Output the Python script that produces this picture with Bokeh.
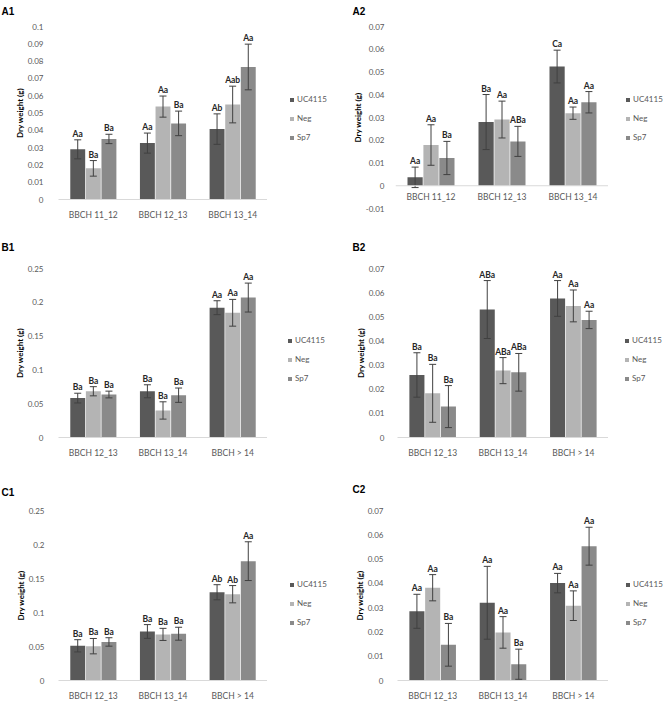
import numpy as np
from bokeh.plotting import figure
from bokeh.models import (ColumnDataSource, Range1d, FixedTicker, NumeralTickFormatter,
                          Whisker, TeeHead, Legend, LegendItem, Span)
from bokeh.layouts import column, row
from bokeh.core.properties import value
from bokeh.embed import file_html
from bokeh.resources import INLINE

# ---------------- data ----------------
series = ["UC4115", "Neg", "Sp7"]
colors = ["#595959", "#b4b4b4", "#8a8a8a"]

cats_A = ["BBCH 11_12", "BBCH 12_13", "BBCH 13_14"]
cats_BC = ["BBCH 12_13", "BBCH 13_14", "BBCH > 14"]

ticks_01 = [0, 0.01, 0.02, 0.03, 0.04, 0.05, 0.06, 0.07, 0.08, 0.09, 0.1]
ticks_007n = [-0.01, 0, 0.01, 0.02, 0.03, 0.04, 0.05, 0.06, 0.07]
ticks_007 = [0, 0.01, 0.02, 0.03, 0.04, 0.05, 0.06, 0.07]
ticks_025 = [0, 0.05, 0.1, 0.15, 0.2, 0.25]

# A1
a1_uc = [0.029, 0.0326, 0.0407]
a1_uc_err = [0.0055, 0.0058, 0.0088]
a1_neg = [0.018, 0.0537, 0.0549]
a1_neg_err = [0.0045, 0.0061, 0.0106]
a1_sp7 = [0.035, 0.044, 0.0766]
a1_sp7_err = [0.0027, 0.0071, 0.0132]
a1_uc_let = ["Aa", "Aa", "Ab"]
a1_neg_let = ["Ba", "Aa", "Aab"]
a1_sp7_let = ["Ba", "Ba", "Aa"]

# A2
a2_uc = [0.0037, 0.028, 0.0524]
a2_uc_err = [0.0045, 0.0121, 0.0072]
a2_neg = [0.0179, 0.0291, 0.0319]
a2_neg_err = [0.0089, 0.0081, 0.0027]
a2_sp7 = [0.0122, 0.0195, 0.0367]
a2_sp7_err = [0.0073, 0.0066, 0.0047]
a2_uc_let = ["Aa", "Ba", "Ca"]
a2_neg_let = ["Aa", "Aa", "Aa"]
a2_sp7_let = ["Ba", "ABa", "Aa"]

# B1
b1_uc = [0.0583, 0.0684, 0.192]
b1_uc_err = [0.0072, 0.0096, 0.0103]
b1_neg = [0.0684, 0.040, 0.1845]
b1_neg_err = [0.0068, 0.0128, 0.0198]
b1_sp7 = [0.0636, 0.0626, 0.207]
b1_sp7_err = [0.0050, 0.0106, 0.0214]
b1_uc_let = ["Ba", "Ba", "Aa"]
b1_neg_let = ["Ba", "Ba", "Aa"]
b1_sp7_let = ["Ba", "Ba", "Aa"]

# B2
b2_uc = [0.0259, 0.053, 0.0576]
b2_uc_err = [0.0092, 0.012, 0.0074]
b2_neg = [0.0183, 0.0277, 0.0545]
b2_neg_err = [0.0120, 0.0054, 0.0066]
b2_sp7 = [0.0128, 0.027, 0.0487]
b2_sp7_err = [0.0087, 0.0078, 0.0036]
b2_uc_let = ["Ba", "ABa", "Aa"]
b2_neg_let = ["Ba", "ABa", "Aa"]
b2_sp7_let = ["Ba", "ABa", "Aa"]

# C1
c1_uc = [0.051, 0.0721, 0.1298]
c1_uc_err = [0.009, 0.0101, 0.0111]
c1_neg = [0.0505, 0.0678, 0.1269]
c1_neg_err = [0.0113, 0.0089, 0.0127]
c1_sp7 = [0.0567, 0.0688, 0.1755]
c1_sp7_err = [0.0062, 0.0095, 0.0285]
c1_uc_let = ["Ba", "Ba", "Ab"]
c1_neg_let = ["Ba", "Ba", "Ab"]
c1_sp7_let = ["Ba", "Ba", "Aa"]

# C2
c2_uc = [0.0285, 0.032, 0.0401]
c2_uc_err = [0.0070, 0.015, 0.0040]
c2_neg = [0.0382, 0.0198, 0.0308]
c2_neg_err = [0.0054, 0.0065, 0.0061]
c2_sp7 = [0.0147, 0.0067, 0.0553]
c2_sp7_err = [0.0088, 0.0062, 0.0078]
c2_uc_let = ["Aa", "Aa", "Aa"]
c2_neg_let = ["Aa", "Aa", "Aa"]
c2_sp7_let = ["Ba", "Ba", "Aa"]

# ---------------- styling ----------------
FONT = "Lato"
GRAY_TXT = "#595959"
ERR_COL = "#404040"
OFFSETS = [-0.224, 0.0, 0.224]
BAR_W = 0.214


def bare_fig(w, h):
    f = figure(width=w, height=h, output_backend="svg", toolbar_location=None, tools="",
               x_range=Range1d(0, w), y_range=Range1d(0, h), min_border=0,
               x_axis_type=None, y_axis_type=None)
    f.outline_line_color = None
    f.xgrid.visible = False
    f.ygrid.visible = False
    return f


def make_panel(name, cats, means, errs, letters, ticks, yr,
               W, H, strip_h, lab_x, lab_top, main_w, left, top, bottom, ystand,
               leg_x, leg_y, zero_axis=False):
    # --- strip with the panel label ---
    strip = bare_fig(W, strip_h)
    strip.text(x=[lab_x], y=[strip_h - lab_top], text=[name], text_align="left",
               text_baseline="top", text_font=value("Liberation Sans"),
               text_font_style="bold", text_font_size="10px", text_color="#000000")

    main_h = H - strip_h
    p = figure(width=main_w, height=main_h, output_backend="svg", toolbar_location=None,
               tools="", x_range=Range1d(0, len(cats)), y_range=Range1d(yr[0], yr[1]),
               min_border_left=left, min_border_right=0,
               min_border_top=top, min_border_bottom=bottom)
    p.outline_line_color = None
    p.xgrid.visible = False
    p.ygrid.visible = False

    centers = np.arange(len(cats)) + 0.5
    for k, s in enumerate(series):
        m = np.array(means[k], dtype=float)
        e = np.array(errs[k], dtype=float)
        src = ColumnDataSource(dict(x=centers + OFFSETS[k], top=m, upper=m + e, lower=m - e,
                                    let=letters[k]))
        p.vbar(x="x", top="top", width=BAR_W, fill_color=colors[k], line_color=None, source=src)
        wk = Whisker(source=src, base="x", upper="upper", lower="lower", dimension="height",
                     line_color=ERR_COL, line_width=1,
                     upper_head=TeeHead(size=7, line_color=ERR_COL, line_width=1),
                     lower_head=TeeHead(size=7, line_color=ERR_COL, line_width=1))
        wk.level = "annotation"
        p.add_layout(wk)
        p.text(x="x", y="upper", text="let", source=src, text_align="center",
               text_baseline="bottom", y_offset=-1, text_font=value(FONT),
               text_font_style="bold", text_font_size="8.5px", text_color="#262626")

    # y axis
    p.yaxis.ticker = FixedTicker(ticks=ticks)
    p.yaxis.formatter = NumeralTickFormatter(format="0.[00]")
    p.yaxis.axis_line_color = None
    p.yaxis.major_tick_line_color = None
    p.yaxis.minor_tick_line_color = None
    p.yaxis.major_label_text_font = FONT
    p.yaxis.major_label_text_font_size = "8px"
    p.yaxis.major_label_text_color = GRAY_TXT
    p.yaxis.major_label_standoff = ystand
    p.yaxis.axis_label = "Dry weight (g)"
    p.yaxis.axis_label_text_font = FONT
    p.yaxis.axis_label_text_font_style = "bold"
    p.yaxis.axis_label_text_font_size = "8px"
    p.yaxis.axis_label_text_color = "#000000"
    p.yaxis.axis_label_standoff = 0

    # x axis
    if zero_axis:
        p.xaxis.visible = False
        p.add_layout(Span(location=0, dimension="width", line_color="#d9d9d9", line_width=1))
        p.text(x=list(centers), y=[0] * len(cats), text=list(cats), text_align="center",
               text_baseline="top", y_offset=6, text_font=value(FONT),
               text_font_size="8.5px", text_color=GRAY_TXT)
    else:
        p.xaxis.ticker = FixedTicker(ticks=list(centers))
        p.xaxis.major_label_overrides = {float(c): cat for c, cat in zip(centers, cats)}
        p.xaxis.axis_line_color = "#d9d9d9"
        p.xaxis.major_tick_line_color = None
        p.xaxis.minor_tick_line_color = None
        p.xaxis.major_label_text_font = FONT
        p.xaxis.major_label_text_font_size = "8.5px"
        p.xaxis.major_label_text_color = GRAY_TXT
        p.xaxis.major_label_standoff = 4

    # --- legend figure to the right ---
    lw = W - main_w
    lf = bare_fig(lw, main_h)
    items = []
    for k, s in enumerate(series):
        # legend proxy (no visible mark)
        r = lf.vbar(x=[np.nan], top=[np.nan], width=1, fill_color=colors[k], line_color=None)
        items.append(LegendItem(label=s, renderers=[r]))
    legend = Legend(items=items, location=(leg_x, leg_y),
                    border_line_color=None, background_fill_alpha=0, padding=0, margin=0,
                    spacing=7, label_height=12, glyph_height=5, glyph_width=5,
                    label_standoff=3, label_text_font=FONT, label_text_font_size="8px",
                    label_text_color=GRAY_TXT)
    lf.add_layout(legend)

    return column(strip, row(p, lf))


A1 = make_panel("A1", cats_A, [a1_uc, a1_neg, a1_sp7], [a1_uc_err, a1_neg_err, a1_sp7_err],
                [a1_uc_let, a1_neg_let, a1_sp7_let], ticks_01, (0, 0.1),
                335, 230, 18, 1, 5, 267, 58, 8, 31, 9, 22, 56)
A2 = make_panel("A2", cats_A, [a2_uc, a2_neg, a2_sp7], [a2_uc_err, a2_neg_err, a2_sp7_err],
                [a2_uc_let, a2_neg_let, a2_sp7_let], ticks_007n, (-0.01, 0.07),
                334, 230, 18, 17, 5, 273, 60, 8, 22, 5, 17, 65, zero_axis=True)
B1 = make_panel("B1", cats_BC, [b1_uc, b1_neg, b1_sp7], [b1_uc_err, b1_neg_err, b1_sp7_err],
                [b1_uc_let, b1_neg_let, b1_sp7_let], ticks_025, (0, 0.25),
                335, 230, 25, 1, 11, 267, 58, 13, 19, 9, 20, 53)
B2 = make_panel("B2", cats_BC, [b2_uc, b2_neg, b2_sp7], [b2_uc_err, b2_neg_err, b2_sp7_err],
                [b2_uc_let, b2_neg_let, b2_sp7_let], ticks_007, (0, 0.07),
                334, 230, 25, 17, 11, 273, 62, 13, 19, 7, 16, 53)
C1 = make_panel("C1", cats_BC, [c1_uc, c1_neg, c1_sp7], [c1_uc_err, c1_neg_err, c1_sp7_err],
                [c1_uc_let, c1_neg_let, c1_sp7_let], ticks_025, (0, 0.25),
                335, 243, 38, 1, 26, 267, 58, 12, 20, 8, 22, 52)
C2 = make_panel("C2", cats_BC, [c2_uc, c2_neg, c2_sp7], [c2_uc_err, c2_neg_err, c2_sp7_err],
                [c2_uc_let, c2_neg_let, c2_sp7_let], ticks_007, (0, 0.07),
                334, 243, 38, 17, 23, 273, 62, 12, 20, 8, 17, 52)

layout = column(row(A1, A2), row(B1, B2), row(C1, C2))

open("out.html", "w").write(file_html(layout, INLINE))
